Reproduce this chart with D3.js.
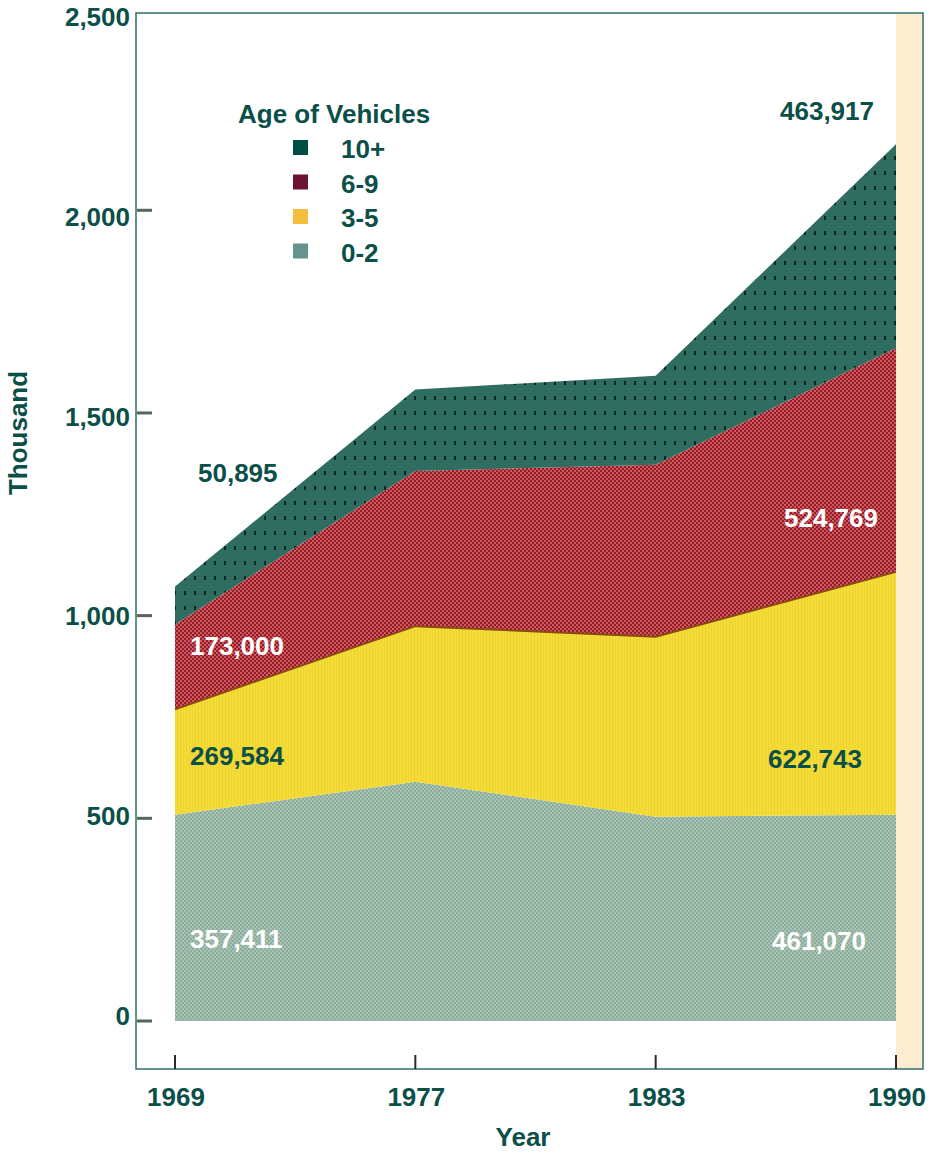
<!DOCTYPE html>
<html>
<head>
<meta charset="utf-8">
<script src="https://cdn.jsdelivr.net/npm/d3@7/dist/d3.min.js"></script>
<style>
  html, body { margin: 0; padding: 0; background: #ffffff; }
  svg { display: block; }
  text { font-family: "Liberation Sans", Arial, Helvetica, sans-serif; font-weight: bold; }
</style>
</head>
<body>
<script>
// Survey years and vehicle counts (thousand) by age group
const years = [1969, 1977, 1983, 1990];
const age0to2 = [509, 590, 504, 509];
const age3to5 = [260, 384, 444, 599];
const age6to9 = [209, 383, 424, 552];
const age10plus = [94, 201, 220, 503];

const seriesKeys = ["0-2", "3-5", "6-9", "10+"];
const legendKeys = ["10+", "6-9", "3-5", "0-2"];
const yTicks = [0, 500, 1000, 1500, 2000, 2500];

// Annotation texts shown at both ends of the series
const labels1969 = ["357,411", "269,584", "173,000", "50,895"];
const labels1990 = ["461,070", "622,743", "524,769", "463,917"];

const W = 938, H = 1152;
const frame = { left: 136, right: 923, top: 13, bottom: 1069 };
const TEAL_TEXT = "#0b5048";

const svg = d3.select("body").append("svg").attr("width", W).attr("height", H);

// Texture patterns for the stacked layers
const defs = svg.append("defs");
function checker(id, base, spot, cell) {
  const p = defs.append("pattern").attr("id", id).attr("patternUnits", "userSpaceOnUse")
    .attr("width", cell * 2).attr("height", cell * 2);
  p.append("rect").attr("width", cell * 2).attr("height", cell * 2).attr("fill", base);
  p.append("rect").attr("width", cell).attr("height", cell).attr("fill", spot);
  p.append("rect").attr("x", cell).attr("y", cell).attr("width", cell).attr("height", cell).attr("fill", spot);
}
checker("tex02", "#a6c4b3", "#8fab9b", 2);
checker("tex69", "#951c26", "#cc5a60", 2);
const py = defs.append("pattern").attr("id", "tex35").attr("patternUnits", "userSpaceOnUse")
  .attr("width", 3).attr("height", 3);
py.append("rect").attr("width", 3).attr("height", 3).attr("fill", "#f4dc33");
py.append("rect").attr("width", 1).attr("height", 3).attr("fill", "#ecd33c");
const pt = defs.append("pattern").attr("id", "tex10").attr("patternUnits", "userSpaceOnUse")
  .attr("width", 10).attr("height", 15);
pt.append("rect").attr("width", 10).attr("height", 15).attr("fill", "#2f6d61");
pt.append("rect").attr("x", 4).attr("y", 6).attr("width", 2).attr("height", 4).attr("fill", "#0a2620");

const fills = { "0-2": "url(#tex02)", "3-5": "url(#tex35)", "6-9": "url(#tex69)", "10+": "url(#tex10)" };
const swatch = { "10+": "#004d44", "6-9": "#6e1231", "3-5": "#f3be3b", "0-2": "#65938f" };

// Scales: survey years sit at equal steps along the axis
const x = d3.scalePoint().domain(years).range([175, 896]);
const y = d3.scaleLinear().domain([0, 2500]).range([1021, 7.6]);
const yLabelPos = d3.scaleLinear().domain([0, 2500]).range([1025, 26]);

// Beige band on the right of the plot
svg.append("rect")
  .attr("x", x(1990)).attr("y", frame.top)
  .attr("width", frame.right - x(1990)).attr("height", frame.bottom - frame.top)
  .attr("fill", "#fcedd1");

// Stacked areas
const rows = years.map((yr, i) => ({
  year: yr, "0-2": age0to2[i], "3-5": age3to5[i], "6-9": age6to9[i], "10+": age10plus[i]
}));
const stacked = d3.stack().keys(seriesKeys)(rows);
const area = d3.area()
  .x(d => x(d.data.year))
  .y0(d => y(d[0]))
  .y1(d => y(d[1]));

svg.append("g").selectAll("path").data(stacked).join("path")
  .attr("d", area)
  .attr("fill", d => fills[d.key]);

// Dark seam along the top of the 3-5 layer
const seam = d3.line().x(d => x(d.data.year)).y(d => y(d[1]));
svg.append("path").datum(stacked[1]).attr("d", seam)
  .attr("fill", "none").attr("stroke", "#8a4a12").attr("stroke-width", 2);

// Frame
svg.append("rect")
  .attr("x", frame.left).attr("y", frame.top)
  .attr("width", frame.right - frame.left).attr("height", frame.bottom - frame.top)
  .attr("fill", "none").attr("stroke", "#2f6f6b").attr("stroke-width", 1.5);

// Y axis ticks and labels
const yAxis = svg.append("g");
yAxis.selectAll("line").data(yTicks.filter(t => t < 2500)).join("line")
  .attr("x1", frame.left + 1).attr("x2", frame.left + 16)
  .attr("y1", d => y(d)).attr("y2", d => y(d))
  .attr("stroke", "#56655c").attr("stroke-width", 3);
yAxis.selectAll("text").data(yTicks).join("text")
  .attr("x", 130).attr("y", d => yLabelPos(d))
  .attr("text-anchor", "end").attr("font-size", 26).attr("fill", TEAL_TEXT)
  .text(d => d3.format(",")(d));

// X axis ticks and labels
const xAxis = svg.append("g");
xAxis.selectAll("line").data(years).join("line")
  .attr("x1", d => x(d)).attr("x2", d => x(d))
  .attr("y1", frame.bottom - 14).attr("y2", frame.bottom)
  .attr("stroke", "#2a2a2a").attr("stroke-width", 2);
xAxis.selectAll("text").data(years).join("text")
  .attr("x", d => x(d) + 1).attr("y", 1106)
  .attr("text-anchor", "middle").attr("font-size", 26).attr("fill", TEAL_TEXT)
  .text(d => d);

// Axis titles
svg.append("text").attr("x", 523).attr("y", 1146)
  .attr("text-anchor", "middle").attr("font-size", 26).attr("fill", TEAL_TEXT)
  .text("Year");
svg.append("text")
  .attr("transform", "translate(27,433) rotate(-90)")
  .attr("text-anchor", "middle").attr("font-size", 26).attr("fill", TEAL_TEXT)
  .text("Thousand");

// Legend
const legend = svg.append("g");
legend.append("text").attr("x", 238).attr("y", 123)
  .attr("font-size", 26).attr("fill", TEAL_TEXT).text("Age of Vehicles");
const item = legend.selectAll("g.item").data(legendKeys).join("g")
  .attr("class", "item")
  .attr("transform", (d, i) => `translate(0, ${i * 34.5})`);
item.append("rect").attr("x", 293).attr("y", 140).attr("width", 15).attr("height", 15)
  .attr("fill", d => swatch[d]);
item.append("text").attr("x", 341).attr("y", 158)
  .attr("font-size", 26).attr("fill", TEAL_TEXT).text(d => d);

// Value annotations at both ends
const annoLayout = [
  { t: labels1969[0], x: 190, y: 948, c: "#ffffff" },
  { t: labels1969[1], x: 190, y: 765, c: TEAL_TEXT },
  { t: labels1969[2], x: 190, y: 655, c: "#ffffff" },
  { t: labels1969[3], x: 198, y: 482, c: TEAL_TEXT },
  { t: labels1990[0], x: 772, y: 950, c: "#ffffff" },
  { t: labels1990[1], x: 768, y: 768, c: TEAL_TEXT },
  { t: labels1990[2], x: 784, y: 527, c: "#ffffff" },
  { t: labels1990[3], x: 780, y: 120, c: TEAL_TEXT }
];
svg.append("g").selectAll("text").data(annoLayout).join("text")
  .attr("x", d => d.x).attr("y", d => d.y)
  .attr("font-size", 26).attr("fill", d => d.c)
  .text(d => d.t);
</script>
</body>
</html>
